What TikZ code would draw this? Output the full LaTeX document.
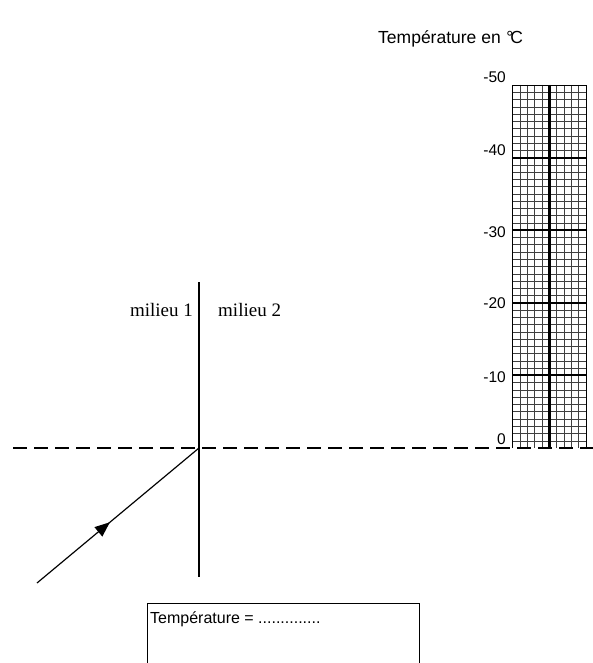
\documentclass[tikz,border=0pt]{standalone}
\usepackage{fontspec}
\setmainfont{Liberation Sans}
\newfontfamily\serifmil{Liberation Serif}
\usetikzlibrary{arrows.meta,decorations.markings}
\tikzset{
  minorline/.style={line width=0.45pt,black!75},
  majorline/.style={line width=2pt},
  centreline/.style={line width=2.4pt},
  ticklabel/.style={font=\fontsize{15.5}{17}\selectfont,anchor=east,inner sep=0pt},
  miltext/.style={font=\serifmil\fontsize{19}{21}\selectfont,inner sep=0pt},
  sanstext/.style={font=\fontsize{16}{18}\selectfont,inner sep=0pt},
  titletext/.style={font=\fontsize{17.5}{19}\selectfont,inner sep=0pt},
  boundary/.style={dash pattern=on 14pt off 7pt,line width=1.2pt},
  rayline/.style={line width=1.2pt,postaction={decorate},decoration={markings,mark=at position 0.45 with {\arrow{Triangle[length=15pt,width=12pt]}}}},
}
\begin{document}
\begin{tikzpicture}[x=1pt,y=-1pt]
\useasboundingbox (0,0) rectangle (593,663);
% thermometer grid
\def\gl{512.7}\def\gr{586}\def\gt{85}\def\gb{448}
\foreach \i in {1,...,9}{\draw[minorline] ({\gl+\i*7.33},\gt) -- ({\gl+\i*7.33},\gb);}
\foreach \j in {1,...,49}{\draw[minorline] (\gl,{\gt+\j*7.26}) -- (\gr,{\gt+\j*7.26});}
\foreach \j in {10,20,30,40}{\draw[majorline] (\gl,{\gt+\j*7.26}) -- (\gr,{\gt+\j*7.26});}
\draw[line width=0.9pt] (\gl,\gb) -- (\gl,\gt) -- (\gr,\gt) -- (\gr,\gb);
\draw[centreline] ({\gl+5*7.33},\gt) -- ({\gl+5*7.33},\gb);
% tick labels
\node[ticklabel] (t50) at (506,77) {-50};
\node[ticklabel] (t40) at (506,150) {-40};
\node[ticklabel] (t30) at (506,232) {-30};
\node[ticklabel] (t20) at (506,303) {-20};
\node[ticklabel] (t10) at (506,377) {-10};
\node[ticklabel] (t0) at (506,439) {0};
% title
\node[titletext,anchor=base west] (title) at (378,44) {Température en {\kern0.05em°\kern-0.18em C}};
% interface
\coordinate (itop) at (199,282);
\coordinate (ibot) at (199,577);
\coordinate (inc) at (199,448);
\coordinate (nl) at (13,448);
\coordinate (nr) at (593,448);
\coordinate (src) at (37,583);
\draw[line width=1.1pt] (itop) -- (ibot);
\draw[boundary] (nl) -- (nr);
\draw[rayline] (src) -- (inc);
\node[miltext,anchor=base east] (m1) at (193,316) {milieu 1};
\node[miltext,anchor=base west] (m2) at (218,316) {milieu 2};
% answer box
\coordinate (bl) at (147,670);
\coordinate (br) at (419,670);
\draw[line width=1pt] (bl) |- (419,603) -- (br);
\node[sanstext,anchor=base west] (ans) at (150,623) {Température = ..............};
\end{tikzpicture}
\end{document}
